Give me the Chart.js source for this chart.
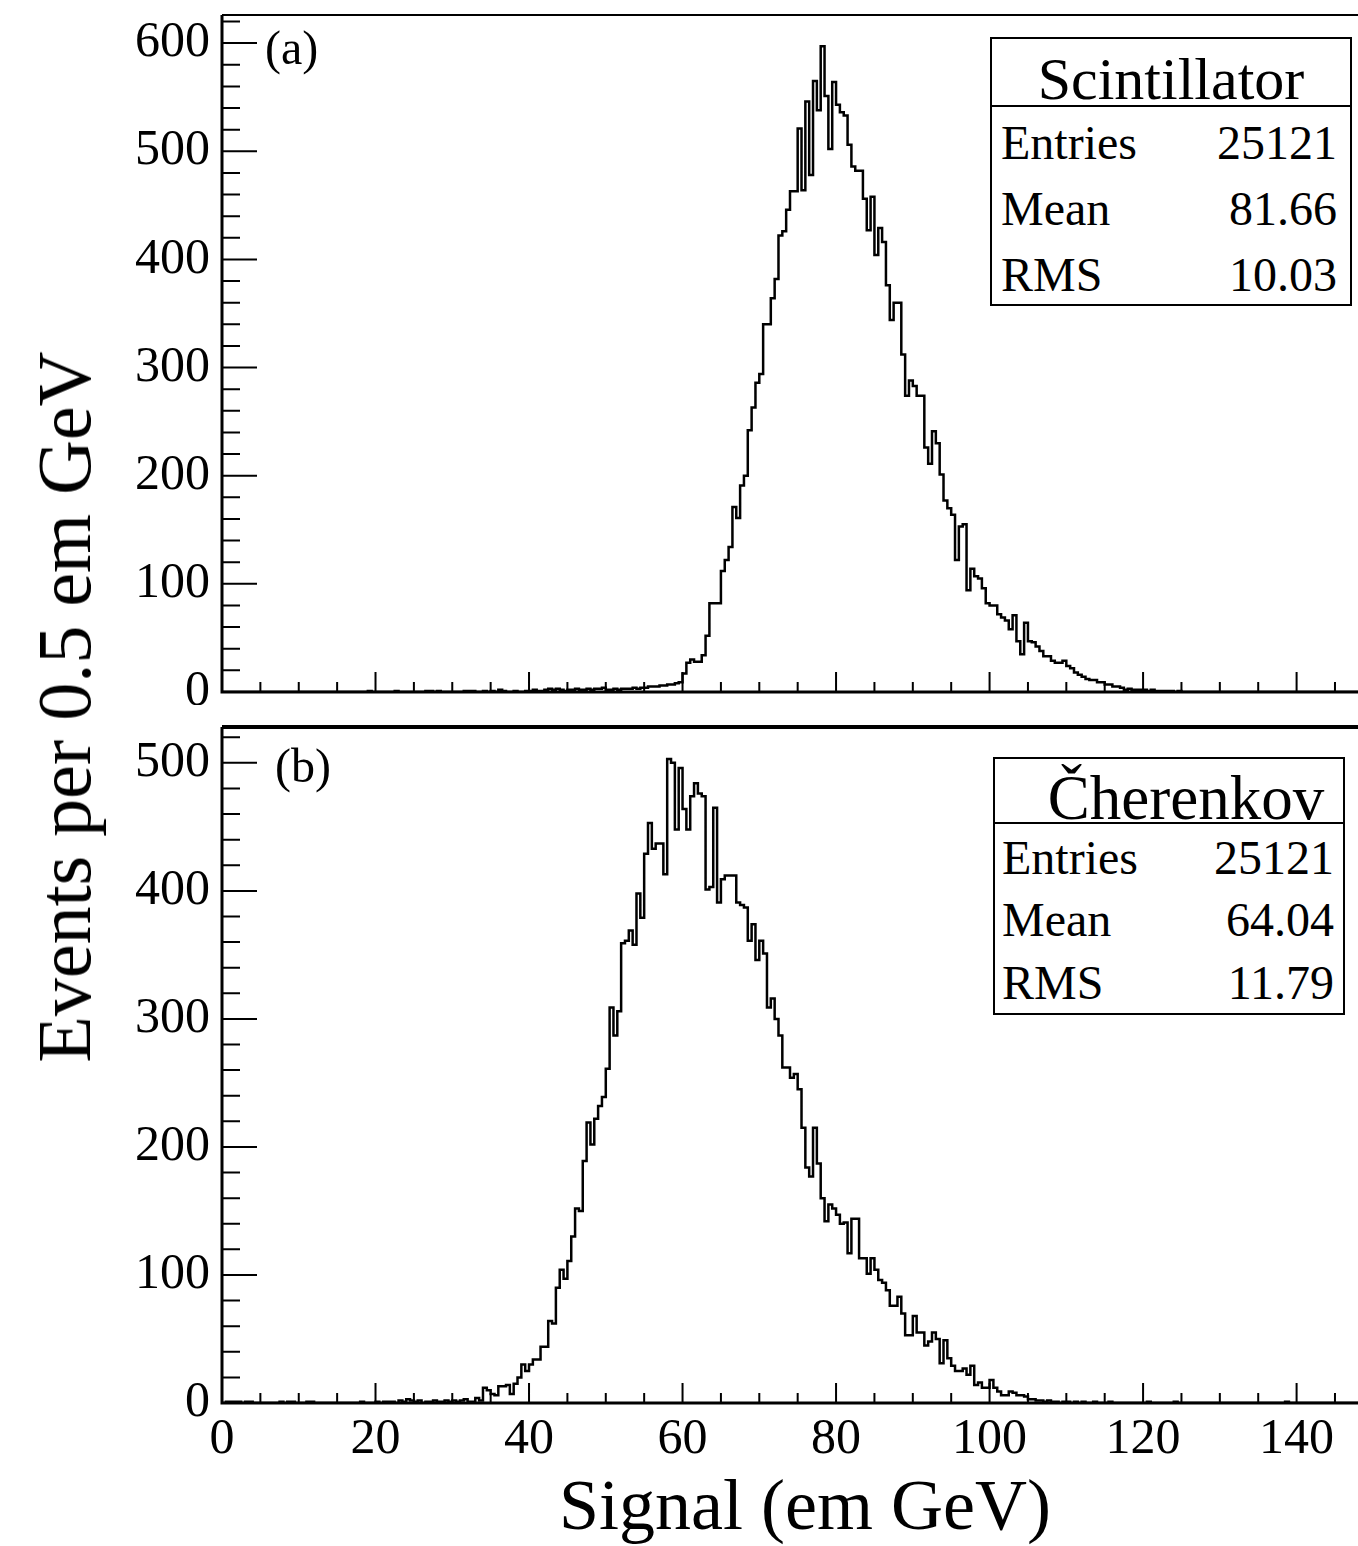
<!DOCTYPE html>
<html>
<head>
<meta charset="utf-8">
<script src="https://cdn.jsdelivr.net/npm/chart.js@4.4.1/dist/chart.umd.min.js"></script>
<style>
  body { margin: 0; background: #fff; }
  #page { position: relative; width: 1358px; height: 1546px; overflow: hidden;
          font-family: "Liberation Serif", "DejaVu Serif", serif; color: #000; }
  canvas { position: absolute; left: 0; }
  .txt { position: absolute; white-space: nowrap; line-height: 1; }
  .stats { position: absolute; box-sizing: border-box; border: 2px solid #000; background: #fff; }
  .stats .head { box-sizing: border-box; border-bottom: 2px solid #000; text-align: center; line-height: 1; }
  .stats .row { display: flex; justify-content: space-between; box-sizing: border-box; }
</style>
</head>
<body>
<div id="page">
  <canvas id="topChart" width="1358" height="705" style="top:0"></canvas>
  <canvas id="botChart" width="1358" height="841" style="top:705px"></canvas>
  <div class="txt" style="left:265px;top:24px;font-size:48px">(a)</div>
  <div class="txt" style="left:275px;top:742px;font-size:48px">(b)</div>
  <div class="txt" style="left:805px;top:1469px;font-size:72px;transform:translateX(-50%)">Signal (em GeV)</div>
  <div class="txt" style="left:64px;top:707px;font-size:76px;transform:translate(-50%,-50%) rotate(-90deg)">Events per 0.5 em GeV</div>
</div>
<script>
// histogram bins: 0.5 em GeV wide, starting at 0
const binWidth = 0.5;
const xMax = 148;
const xTicks = [0, 20, 40, 60, 80, 100, 120, 140];
const scintYTicks = [0, 100, 200, 300, 400, 500, 600];
const cherYTicks = [0, 100, 200, 300, 400, 500];

const scintCounts = [
  0,0,0,0,0,0,0,0,0,0, 0,0,0,0,0,0,0,0,0,0,
  0,0,0,0,0,0,0,0,0,0, 0,0,0,0,0,0,0,0,1,0,
  0,0,0,0,0,1,0,0,0,0, 0,0,0,1,1,0,1,0,0,0,
  0,0,0,1,1,1,0,0,1,0, 1,0,2,1,0,0,1,0,0,1,
  1,2,1,1,2,3,2,3,2,1, 2,2,3,2,2,3,2,3,3,4,
  2,2,3,2,3,3,3,4,3,4, 4,5,5,5,6,6,7,7,8,9,
  17,27,30,28,28,34,52,82,82,82, 112,122,134,171,161,191,200,242,263,286,
  294,340,340,364,382,422,426,446,463,463, 521,464,546,478,565,538,597,551,502,564,
  543,536,533,506,486,482,482,456,427,458, 404,429,416,376,344,360,360,312,274,288,
  283,274,274,226,211,241,230,201,177,170, 164,122,153,155,94,114,107,105,96,82,
  80,80,72,69,66,58,71,47,35,64, 47,46,42,38,33,33,29,27,27,29,
  24,22,18,16,14,12,11,11,9,9, 7,7,5,5,4,2,3,2,2,2,
  2,1,2,1,1,1,1,1,0,1, 0,0,0,0,0,0,0,0,0,0,
  0,0,0,0,0,0,0,0,0,0, 0,0,0,0,0,0,0,0,0,0,
  0,0,0,0,0,0,0,0,0,0, 0,0,0,0,0,0
];

const cherCounts = [
  0,1,1,1,1,0,1,1,0,0, 0,0,0,0,0,1,0,1,1,0,
  0,0,1,1,0,0,0,0,0,0, 0,0,0,0,0,0,1,0,0,0,
  1,0,1,1,1,0,2,1,3,2, 1,2,0,1,1,2,1,1,2,1,
  2,1,2,3,1,1,4,2,12,10, 7,6,13,13,14,7,15,20,30,25,
  30,34,34,44,44,64,62,90,104,97, 111,130,152,150,189,219,202,222,232,239,
  261,309,287,306,359,361,369,358,398,379, 429,453,433,437,437,413,503,500,448,496,
  464,448,474,484,476,474,401,403,465,391, 409,412,412,412,391,389,387,361,374,346,
  361,351,309,316,300,287,262,262,254,257, 245,215,184,177,215,187,160,142,155,152,
  147,140,141,117,144,144,113,113,101,113, 104,96,94,88,76,76,83,70,53,53,
  68,55,55,45,48,55,50,31,49,35, 29,25,25,27,22,29,14,16,12,12,
  18,12,9,6,6,9,8,6,6,5, 3,3,2,2,1,2,1,1,0,1,
  1,0,1,0,1,0,0,1,0,0, 0,1,0,0,0,0,0,0,0,0,
  0,1,0,0,0,0,0,0,1,0, 0,0,0,0,0,0,0,0,0,0,
  0,0,0,0,0,0,0,0,0,0, 0,0,0,0,0,0,0,1,0,0,
  0,0,0,0,0,0,0,0,0,0, 0,0,0,0,0,0
];

const statLabels = ['Entries', 'Mean', 'RMS'];
const scintStats = ['25121', '81.66', '10.03'];
const cherStats = ['25121', '64.04', '11.79'];

const serif = '"Liberation Serif", "DejaVu Serif", serif';

// step outline: each bin value runs from its left edge to the next edge
function histPoints(counts) {
  const pts = counts.map((c, i) => ({x: i * binWidth, y: c}));
  pts.push({x: counts.length * binWidth, y: counts[counts.length - 1]});
  return pts;
}

// ROOT-like frame: inward major/minor ticks, axis lines, top border
const frameTicks = {
  id: 'frameTicks',
  afterDatasetsDraw(chart, args, opts) {
    const {ctx, chartArea: a} = chart;
    const x = chart.scales.x, y = chart.scales.y;
    ctx.save();
    ctx.strokeStyle = '#000';
    ctx.lineWidth = 2;
    ctx.beginPath();
    for (let v = 0; v <= y.max; v += 20) {
      const py = y.getPixelForValue(v);
      ctx.moveTo(a.left, py);
      ctx.lineTo(a.left + (v % 100 === 0 ? 35 : 18), py);
    }
    for (let g = 0; g <= x.max; g += 5) {
      const px = x.getPixelForValue(g);
      ctx.moveTo(px, a.bottom);
      ctx.lineTo(px, a.bottom - (g % 20 === 0 ? 20 : 10));
    }
    ctx.stroke();
    ctx.lineWidth = 3;
    ctx.beginPath();
    ctx.moveTo(a.left, a.top);
    ctx.lineTo(a.left, a.bottom);
    ctx.lineTo(a.right, a.bottom);
    ctx.stroke();
    ctx.lineWidth = opts.topWidth || 2;
    ctx.beginPath();
    ctx.moveTo(a.left, a.top);
    ctx.lineTo(a.right, a.top);
    ctx.stroke();
    ctx.restore();
  }
};

function makeHist(id, counts, yMax, yTicks, showX, padTop, padBottom, xHeight, topWidth) {
  return new Chart(document.getElementById(id), {
    type: 'line',
    plugins: [frameTicks],
    data: {
      datasets: [{
        data: histPoints(counts),
        stepped: 'before',
        borderColor: '#000',
        borderWidth: 2.5,
        pointRadius: 0,
        fill: false
      }]
    },
    options: {
      responsive: false,
      animation: false,
      devicePixelRatio: 1,
      events: [],
      layout: {padding: {top: padTop, bottom: padBottom, left: 0, right: 0}},
      plugins: {legend: {display: false}, tooltip: {enabled: false}, frameTicks: {topWidth: topWidth}},
      scales: {
        x: {
          type: 'linear', min: 0, max: xMax,
          grid: {display: false, drawTicks: false},
          border: {display: false},
          afterBuildTicks: s => { s.ticks = xTicks.map(v => ({value: v})); },
          afterFit: s => { s.height = xHeight; s.paddingLeft = 0; s.paddingRight = 0; },
          ticks: {display: showX, padding: 7, color: '#000', maxRotation: 0,
                  font: {family: serif, size: 50}}
        },
        y: {
          type: 'linear', min: 0, max: yMax,
          grid: {display: false, drawTicks: false},
          border: {display: false},
          afterBuildTicks: s => { s.ticks = yTicks.map(v => ({value: v})); },
          afterFit: s => { s.width = 222; s.paddingTop = 0; s.paddingBottom = 0; },
          ticks: {padding: 12, color: '#000', font: {family: serif, size: 50}}
        }
      }
    }
  });
}

makeHist('topChart', scintCounts, 626, scintYTicks, false, 15, 13, 0, 2);
makeHist('botChart', cherCounts, 528, cherYTicks, true, 22, 0, 143, 4);

// statistics boxes
function statsBox(box) {
  const el = document.createElement('div');
  el.className = 'stats';
  Object.assign(el.style, {left: box.left + 'px', top: box.top + 'px',
    width: box.width + 'px', height: box.height + 'px'});
  const head = document.createElement('div');
  head.className = 'head';
  head.textContent = box.title;
  Object.assign(head.style, {height: box.headH + 'px', fontSize: box.headFont + 'px',
    paddingTop: box.headPad + 'px', paddingLeft: (box.headShift || 0) + 'px'});
  el.appendChild(head);
  statLabels.forEach((lab, i) => {
    const row = document.createElement('div');
    row.className = 'row';
    Object.assign(row.style, {height: box.rowH + 'px', lineHeight: box.rowH + 'px',
      fontSize: '48px', paddingLeft: box.padL + 'px', paddingRight: box.padR + 'px',
      paddingTop: '3px'});
    const a = document.createElement('span'); a.textContent = lab;
    const b = document.createElement('span'); b.textContent = box.values[i];
    row.appendChild(a); row.appendChild(b);
    el.appendChild(row);
  });
  document.getElementById('page').appendChild(el);
}

statsBox({left: 990, top: 37, width: 362, height: 269, title: 'Scintillator', headH: 68,
  headFont: 60, headPad: 10, rowH: 66, padL: 9, padR: 13, values: scintStats});
statsBox({left: 993, top: 757, width: 352, height: 258, title: 'Čherenkov', headH: 65,
  headFont: 63, headPad: 8, headShift: 34, rowH: 62.3, padL: 7, padR: 9, values: cherStats});
</script>
</body>
</html>
